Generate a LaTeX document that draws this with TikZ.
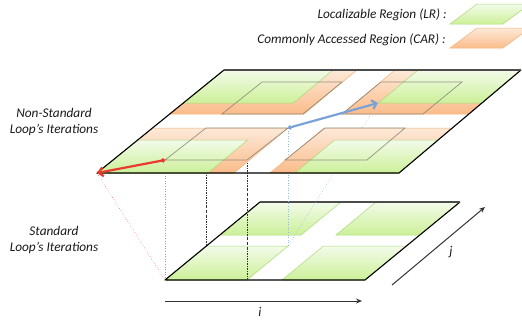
\documentclass[tikz,border=0pt]{standalone}
\usepackage{fontspec}
\setmainfont{Carlito}
\usetikzlibrary{arrows.meta}

\definecolor{grnT}{RGB}{243,251,234}
\definecolor{grnB}{RGB}{204,240,152}
\definecolor{grnE}{RGB}{170,218,118}
\definecolor{orT}{RGB}{253,233,217}
\definecolor{orB}{RGB}{250,188,138}
\definecolor{orE}{RGB}{244,178,122}
\definecolor{ghostc}{RGB}{125,125,110}
\definecolor{redA}{RGB}{232,58,46}
\definecolor{blueA}{RGB}{122,162,216}
\definecolor{redL}{RGB}{240,120,120}
\definecolor{blueL}{RGB}{150,182,228}
\definecolor{txt}{RGB}{25,25,25}

\tikzset{
  lr/.style={top color=grnT, bottom color=grnB, draw=grnE, line width=0.5pt},
  car/.style={top color=orT, bottom color=orB, draw=orE, line width=0.5pt},
  plane/.style={draw=black, line width=1.1pt, line join=round},
  rim/.style={draw=black!70, line width=1.1pt},
  ghost/.style={draw=ghostc, line width=0.7pt, draw opacity=0.8},
  projred/.style={draw=redL, line width=0.6pt, dotted},
  projblue/.style={draw=blueL, line width=0.6pt, dotted},
  projblack/.style={draw=black!80, line width=0.55pt, dash pattern=on 2pt off 1.2pt on 0.5pt off 1.2pt},
  move/.style={line width=2.2pt, line cap=round, {Circle[length=4pt]}-{Straight Barb[length=4.5pt,width=9pt]}},
  axis/.style={draw=black!80, line width=1pt, -{Stealth[length=6pt,width=5pt,inset=2pt]}},
  lbl/.style={font=\fontsize{13.3}{16}\selectfont\itshape, text=txt, inner sep=0pt}
}

\begin{document}
\begin{tikzpicture}[x=1pt,y=-1pt]
\useasboundingbox (0,0) rectangle (522,322);

% ---------- standard iteration space (lower plane) ----------
\coordinate (sBL) at (165,280);
\coordinate (sBR) at (365,280);
\coordinate (sTR) at (460,202);
\coordinate (sTL) at (260,202);

\path[lr] (165,280) -- (247,280) -- (288,246) -- (206,246) -- cycle;
\path[lr] (282,280) -- (365,280) -- (406.5,246) -- (323.5,246) -- cycle;
\path[lr] (220,235) -- (301,235) -- (341,202) -- (260,202) -- cycle;
\path[lr] (336,235) -- (420,235) -- (460,202) -- (376,202) -- cycle;
\draw[plane] (sTL) -- (sBL) -- (sBR) -- (sTR);
\draw[rim] (sTL) -- (sTR);

% ---------- corners of the shifted tile and their projections ----------
\coordinate (tBL) at (97,173);
\coordinate (gA) at (165,160);
\coordinate (gB) at (206,128);
\coordinate (gC) at (247,160);
\coordinate (gD) at (288,128);
\coordinate (hEnd) at (378,103);
\coordinate (pB) at (206,246);
\coordinate (pC) at (247,280);
\coordinate (pD) at (288,246);

\draw[projred] (tBL) -- (sBL);
\draw[projred] (gA) -- (sBL);
\draw[projblack] (gB) -- (pB);
\draw[projblack] (gC) -- (pC);
\draw[projblue] (gD) -- (pD);
\draw[projblue] (hEnd) -- (pD);

% ---------- non-standard iteration space (upper plane) ----------
\coordinate (tBR) at (399,173);
\coordinate (tTR) at (521,70);
\coordinate (tTL) at (224,70);

% upper-left tile
\path[car] (169.7,114) -- (304,114) -- (357,70) -- (224,70) -- cycle;
\path[lr]  (183.3,103) -- (293.4,103) -- (333,70) -- (224,70) -- cycle;
% upper-right tile
\path[car] (342,114) -- (468.9,114) -- (521,70) -- (395,70) -- cycle;
\path[lr]  (378.4,103) -- (481.9,103) -- (521,70) -- (418,70) -- cycle;
% lower-left tile
\path[car] (97,173) -- (234,173) -- (288,128) -- (152.5,128) -- cycle;
\path[lr]  (97,173) -- (208,173) -- (247.6,140) -- (137.7,140) -- cycle;
% lower-right tile
\path[car] (270,173) -- (399,173) -- (452.3,128) -- (324,128) -- cycle;
\path[lr]  (295,173) -- (399,173) -- (438.1,140) -- (334.6,140) -- cycle;

% original tile outlines
\draw[ghost] (gA) -- (gC) -- (gD) -- (gB) -- cycle;
\draw[ghost] (285,160) -- (367,160) -- (405,128) -- (325,128) -- cycle;
\draw[ghost] (222,114) -- (303,114) -- (342,82) -- (262,82) -- cycle;
\draw[ghost] (342,114) -- (423,114) -- (462,82) -- (381,82) -- cycle;

\draw[plane] (tTL) -- (tBL) -- (tBR) -- (tTR);
\draw[rim] (tTL) -- (tTR);

% dependence arrows
\draw[move, redA] (gA) -- (tBL);
\draw[move, blueA] (gD) -- (hEnd);

% ---------- axes ----------
\coordinate (iS) at (165,301);
\coordinate (iE) at (362,301);
\coordinate (jS) at (392,285);
\coordinate (jE) at (485,207);
\draw[axis] (iS) -- (iE);
\draw[axis] (jS) -- (jE);
\node[lbl] (ilbl) at (260,312) {i};
\node[lbl] (jlbl) at (451,252) {j};

% ---------- side labels ----------
\node[lbl, align=center] (nsl) at (54,122) {Non-Standard\\Loop’s Iterations};
\node[lbl, align=center] (sl) at (54,240) {Standard\\Loop’s Iterations};

% ---------- legend ----------
\node[lbl, anchor=east] (lrt) at (447,15) {Localizable Region (LR) :};
\node[lbl, anchor=east] (cart) at (446,40) {Commonly Accessed Region (CAR) :};
\path[lr]  (450,24) -- (503,24) -- (530,4) -- (477,4) -- cycle;
\path[car] (450,48) -- (503,48) -- (530,28) -- (477,28) -- cycle;
\end{tikzpicture}
\end{document}
